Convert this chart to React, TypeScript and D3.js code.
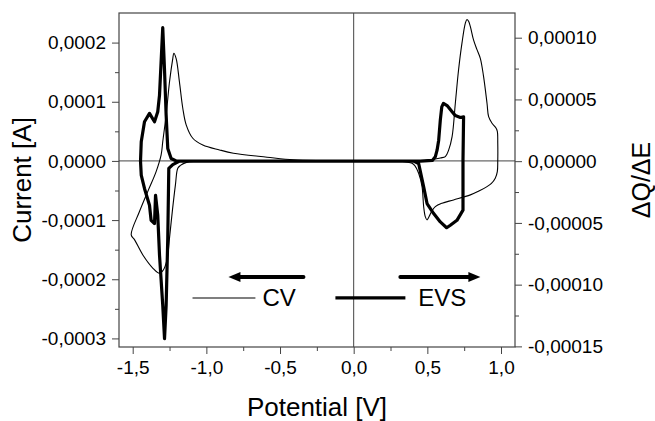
import React, { useRef, useEffect } from "react";
import * as d3 from "d3";

// CV (thin line, left axis): potential [V] and current [A]
const cvPotential = [
  0.0, 0.3, 0.5, 0.588, 0.622, 0.645, 0.668, 0.69, 0.712, 0.735, 0.758, 0.769, 0.78, 0.792, 0.814,
  0.837, 0.86, 0.882, 0.905, 0.916, 0.939, 0.965, 0.975, 0.978, 0.978, 0.975, 0.961, 0.935, 0.905,
  0.85, 0.792, 0.678, 0.6, 0.554, 0.53, 0.512, 0.498, 0.486, 0.475, 0.464, 0.441, 0.415, 0.396,
  0.317, 0.0, -0.5, -1.0, -1.074, -1.135, -1.176, -1.194, -1.21, -1.23, -1.25, -1.267, -1.291,
  -1.318, -1.364, -1.431, -1.487, -1.51, -1.454, -1.398, -1.341, -1.307, -1.296, -1.273, -1.25,
  -1.228, -1.221, -1.205, -1.183, -1.16, -1.137, -1.092, -1.024, -0.911, -0.816, -0.588, -0.409,
  -0.2, 0.0,
];
const cvCurrent = [
  0, 0.0000002, 0.000001, 0.000005, 0.0000073, 0.0000186, 0.000041, 0.0000975, 0.000154, 0.000199,
  0.000233, 0.000239, 0.000236, 0.000227, 0.000204, 0.000188, 0.000173, 0.000142, 0.0000975,
  0.0000748, 0.0000637, 0.000056, 0.00005, 0.00003, 0.0, -0.000018, -0.0000292, -0.000038,
  -0.0000434, -0.000051, -0.0000574, -0.0000659, -0.0000715, -0.0000772, -0.000085, -0.0000941,
  -0.0000997, -0.0000941, -0.0000772, -0.0000434, -0.0000208, -0.000008, -0.0000039, -0.0000005, 0,
  0, -0.0000004, -0.0000008, -0.0000025, -0.0000076, -0.0000123, -0.0000405, -0.0000828, -0.00013,
  -0.000167, -0.000184, -0.00019, -0.000181, -0.000159, -0.0001334, -0.000125, -0.0000856,
  -0.0000519, -0.0000181, 0.0000101, 0.0000326, 0.0000777, 0.000134, 0.000173, 0.000182, 0.000173,
  0.000134, 0.000089, 0.000061, 0.0000383, 0.000027, 0.0000186, 0.000013, 0.0000063, 0.0000017,
  0.0000005, 0,
];

// EVS (thick line, right axis): potential [V] and dQ/dE
const evsPotential = [
  0.0, 0.3, 0.452, 0.534, 0.554, 0.566, 0.577, 0.588, 0.598, 0.609, 0.634, 0.668, 0.69, 0.724,
  0.746, 0.742, 0.742, 0.701, 0.656, 0.631, 0.588, 0.543, 0.498, 0.475, 0.441, 0.407, 0.0, -0.5,
  -1.0, -1.182, -1.228, -1.255, -1.262, -1.273, -1.284, -1.296, -1.318, -1.33, -1.345, -1.352,
  -1.375, -1.386, -1.42, -1.442, -1.447, -1.442, -1.42, -1.386, -1.352, -1.33, -1.318, -1.296,
  -1.284, -1.273, -1.262, -1.239, -1.205, -1.047, 0.0,
];
const evsSignal = [
  0, 0, 0, 0.0000006, 0.0000035, 0.0000089, 0.000017, 0.0000333, 0.000044, 0.0000468, 0.000045,
  0.00004, 0.0000369, 0.0000354, 0.0000359, 0.0000008, -0.0000397, -0.0000479, -0.0000519,
  -0.0000539, -0.0000492, -0.0000424, -0.0000343, -0.0000208, -0.0000019, 0, 0, 0, 0, 0,
  -0.0000028, -0.0000059, -0.0000627, -0.0001168, -0.0001438, -0.0001168, -0.0000762, -0.0000438,
  -0.0000276, -0.0000505, -0.0000479, -0.0000357, -0.0000221, -0.0000113, 0, 0.0000157, 0.0000319,
  0.0000387, 0.0000319, 0.00004, 0.0000535, 0.0001081, 0.0000738, 0.0000373, 0.0000103, 0.0000022,
  0.0000002, 0, 0,
];

const xTicks = [-1.5, -1.0, -0.5, 0.0, 0.5, 1.0];
const leftTicks = [0.0002, 0.0001, 0, -0.0001, -0.0002, -0.0003];
const rightTicks = [0.0001, 0.00005, 0, -0.00005, -0.0001, -0.00015];

const W = 655;
const H = 421;
const margin = { top: 13, right: 140, bottom: 74, left: 119 };
const font = "'Liberation Sans', Arial, Helvetica, sans-serif";

const comma = (f: (n: number) => string) => (d: any) =>
  f(d).replace(".", ",").replace("\u2212", "-");

const App = () => {
  const svgRef = useRef<SVGSVGElement>(null);

  useEffect(() => {
    const svg = d3.select(svgRef.current);
    svg.selectAll("*").remove();

    const x = d3.scaleLinear().domain([-1.593, 1.095]).range([margin.left, W - margin.right]);
    const yL = d3.scaleLinear().domain([-0.0003145, 0.00025]).range([H - margin.bottom, margin.top]);
    const yR = d3.scaleLinear().domain([-0.0001505, 0.00012]).range([H - margin.bottom, margin.top]);
    const x0 = margin.left;
    const x1 = W - margin.right;
    const y0 = H - margin.bottom;
    const y1 = margin.top;
    const axisColor = "#444";

    // zero lines
    svg.append("line").attr("x1", x0).attr("x2", x1).attr("y1", yL(0)).attr("y2", yL(0))
      .attr("stroke", axisColor).attr("stroke-width", 1);
    svg.append("line").attr("x1", x(0)).attr("x2", x(0)).attr("y1", y1).attr("y2", y0)
      .attr("stroke", axisColor).attr("stroke-width", 1);

    // curves
    const cv = cvPotential.map((v, i) => [v, cvCurrent[i]]);
    const evs = evsPotential.map((v, i) => [v, evsSignal[i]]);
    const lineL = d3.line<number[]>().x((d) => x(d[0])).y((d) => yL(d[1]))
      .curve(d3.curveCatmullRom.alpha(0.5));
    const lineR = d3.line<number[]>().x((d) => x(d[0])).y((d) => yR(d[1]));
    svg.append("path").attr("d", lineL(cv)).attr("fill", "none").attr("stroke", "#000")
      .attr("stroke-width", 1.1).attr("stroke-linejoin", "round");
    svg.append("path").attr("d", lineR(evs)).attr("fill", "none").attr("stroke", "#000")
      .attr("stroke-width", 3.2).attr("stroke-linejoin", "round");

    // axes
    const styleAxis = (g: any) => {
      g.select(".domain").remove();
      g.selectAll(".tick line").attr("stroke", axisColor);
      g.selectAll(".tick text").attr("font-size", "19px").attr("font-family", font).attr("fill", "#000");
    };
    svg.append("g").attr("transform", `translate(${x0},0)`)
      .call(d3.axisLeft(yL).tickValues(leftTicks).tickSize(7).tickPadding(6).tickFormat(comma(d3.format(".4f"))))
      .call(styleAxis);
    svg.append("g").attr("transform", `translate(${x0},0)`)
      .call(d3.axisLeft(yL).tickValues(d3.range(-0.00025, 0.00025, 0.0001)).tickSize(4).tickFormat(() => ""))
      .call(styleAxis);
    svg.append("g").attr("transform", `translate(${x1},0)`)
      .call(d3.axisRight(yR).tickValues(rightTicks).tickSize(7).tickPadding(6).tickFormat(comma(d3.format(".5f"))))
      .call(styleAxis);
    svg.append("g").attr("transform", `translate(${x1},0)`)
      .call(d3.axisRight(yR).tickValues(d3.range(-0.000125, 0.00012, 0.00005)).tickSize(4).tickFormat(() => ""))
      .call(styleAxis);
    svg.append("g").attr("transform", `translate(0,${y0})`)
      .call(d3.axisBottom(x).tickValues(xTicks).tickSize(7).tickPadding(7).tickFormat(comma(d3.format(".1f"))))
      .call(styleAxis);
    svg.append("g").attr("transform", `translate(0,${y0})`)
      .call(d3.axisBottom(x).tickValues(d3.range(-1.25, 1.1, 0.5)).tickSize(4).tickFormat(() => ""))
      .call(styleAxis);

    // frame
    svg.append("rect").attr("x", x0).attr("y", y1).attr("width", x1 - x0).attr("height", y0 - y1)
      .attr("fill", "none").attr("stroke", axisColor).attr("stroke-width", 1.2);

    // titles
    svg.append("text").attr("x", (x0 + x1) / 2).attr("y", 416).attr("text-anchor", "middle")
      .attr("font-size", "26px").attr("font-family", font).text("Potential [V]");
    svg.append("text").attr("transform", `translate(31,${(y0 + y1) / 2}) rotate(-90)`)
      .attr("text-anchor", "middle").attr("font-size", "26px").attr("font-family", font).text("Current [A]");
    svg.append("text").attr("transform", `translate(650,${(y0 + y1) / 2}) rotate(-90)`)
      .attr("text-anchor", "middle").attr("font-size", "25px").attr("font-family", font).text("ΔQ/ΔE");

    // arrows (scan direction)
    const arrow = (from: number, to: number, level: number) => {
      const ya = yL(level);
      const xf = x(from);
      const xt = x(to);
      const dir = Math.sign(xt - xf);
      svg.append("line").attr("x1", xf).attr("x2", xt - dir * 8).attr("y1", ya).attr("y2", ya)
        .attr("stroke", "#000").attr("stroke-width", 4).attr("stroke-linecap", "round");
      svg.append("path")
        .attr("d", `M${xt},${ya} L${xt - dir * 12},${ya - 5} L${xt - dir * 12},${ya + 5} Z`)
        .attr("fill", "#000");
    };
    arrow(-0.341, -0.85, -0.000196);
    arrow(0.317, 0.86, -0.000196);

    // legend
    const ly = yL(-0.0002316);
    svg.append("line").attr("x1", x(-1.094)).attr("x2", x(-0.667)).attr("y1", ly).attr("y2", ly)
      .attr("stroke", "#000").attr("stroke-width", 1.1);
    svg.append("text").attr("x", x(-0.619)).attr("y", ly + 8).attr("font-size", "24px")
      .attr("font-family", font).text("CV");
    svg.append("line").attr("x1", x(-0.124)).attr("x2", x(0.351)).attr("y1", ly).attr("y2", ly)
      .attr("stroke", "#000").attr("stroke-width", 3.2);
    svg.append("text").attr("x", x(0.439)).attr("y", ly + 8).attr("font-size", "24px")
      .attr("font-family", font).text("EVS");
  }, []);

  return (
    <svg
      ref={svgRef}
      width={W}
      height={H}
      style={{ position: "absolute", left: 0, top: 0, background: "#fff", display: "block" }}
    />
  );
};

export default App;
